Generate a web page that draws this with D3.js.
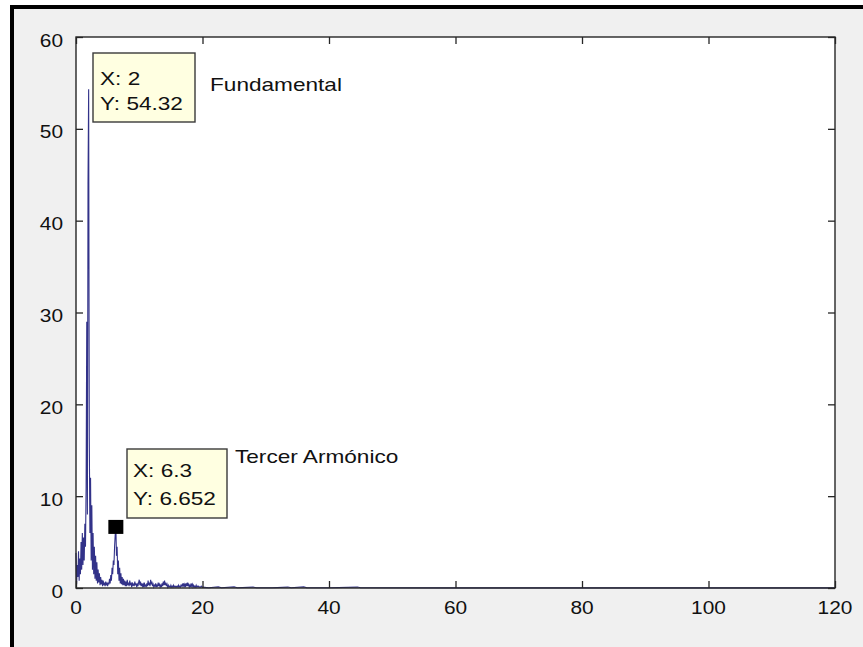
<!DOCTYPE html>
<html>
<head>
<meta charset="utf-8">
<script src="https://d3js.org/d3.v7.min.js"></script>
<style>
  body { margin: 0; background: #fff; }
  text { font-family: "Liberation Sans", Arial, sans-serif; fill: #111; }
</style>
</head>
<body>
<div id="chart"></div>
<script>
// spectrum magnitude, one value every 0.1 from 0 to 20
var step = 0.1;
var spectrumLow = [
  3.8, 0.4, 2.5, 1.2, 4.0, 0.8, 3.2, 1.5, 5.0, 2.0,
  6.0, 2.5, 5.5, 3.0, 7.0, 4.5, 11, 29, 8, 44,
  54.32, 16.3, 6, 12, 3, 9, 2, 6, 1.5, 4.5,
  1, 3.5, 0.8, 2.8, 0.5, 2.0, 0.6, 1.6, 0.3, 1.2,
  0.4, 0.9, 0.2, 0.8, 0.3, 0.6, 0.2, 0.7, 0.3, 0.5,
  0.2, 0.6, 0.4, 1.0, 0.5, 1.4, 0.8, 2.2, 1.5, 3.0,
  2.5, 4.5, 5.8, 6.652, 3.5, 4.5, 1.5, 3.0, 0.8, 2.2,
  0.5, 1.6, 0.4, 1.2, 0.3, 1.0, 0.3, 0.8, 0.2, 0.7,
  0.2, 0.9, 0.3, 0.6, 0.2, 0.8, 0.4, 0.5, 0.1, 0.6,
  0.3, 0.4, 0.2, 0.7, 0.3, 0.5, 0.1, 0.4, 0.2, 0.6,
  0.9, 0.3, 0.7, 0.2, 0.5, 0.2, 0.4, 0.1, 0.6, 0.2,
  0.3, 0.1, 0.5, 0.2, 0.8, 0.3, 0.6, 0.2, 0.9, 0.4,
  0.7, 0.2, 0.4, 0.1, 0.3, 0.2, 0.5, 0.1, 0.3, 0.2,
  0.6, 0.2, 0.4, 0.1, 0.3, 0.1, 0.5, 0.2, 0.7, 0.3,
  0.8, 0.3, 0.6, 0.2, 0.4, 0.1, 0.3, 0.1, 0.2, 0.1,
  0.3, 0.1, 0.2, 0.1, 0.3, 0.1, 0.2, 0.1, 0.2, 0.1,
  0.2, 0.1, 0.3, 0.1, 0.2, 0.1, 0.3, 0.2, 0.4, 0.2,
  0.5, 0.2, 0.4, 0.1, 0.5, 0.2, 0.6, 0.2, 0.4, 0.1,
  0.3, 0.1, 0.5, 0.2, 0.4, 0.1, 0.3, 0.1, 0.2, 0.1,
  0.3, 0.1, 0.2, 0.1, 0.2, 0.1, 0.1, 0.1, 0.2, 0.1,
  0.1
];
// sparse tail beyond 20: [x, magnitude]
var spectrumTail = [
  [21, 0.02], [22.5, 0.12], [23, 0.02], [25, 0.12], [25.5, 0.02], [28, 0.1],
  [28.5, 0.02], [31, 0.02], [33.5, 0.1], [34, 0.02], [36, 0.12], [36.5, 0.02],
  [40, 0.02], [44.5, 0.1], [45, 0.02], [60, 0.01], [80, 0.01], [100, 0.01], [120, 0.01]
];
var xTicks = [0, 20, 40, 60, 80, 100, 120];
var yTicks = [0, 10, 20, 30, 40, 50, 60];
var tips = [
  { x: 2, y: 54.32, lines: ["X: 2", "Y: 54.32"], label: "Fundamental", marker: false },
  { x: 6.3, y: 6.652, lines: ["X: 6.3", "Y: 6.652"], label: "Tercer Armónico", marker: true }
];

var W = 863, H = 647;
var svg = d3.select("#chart").append("svg")
  .attr("width", W).attr("height", H);

// figure window
svg.append("rect").attr("x", 12).attr("y", 7).attr("width", W - 12).attr("height", H - 7)
  .attr("fill", "#f0f0f0");
svg.append("line").attr("x1", 12).attr("x2", 12).attr("y1", 5).attr("y2", H)
  .attr("stroke", "#000").attr("stroke-width", 4);
svg.append("line").attr("x1", 10).attr("x2", W).attr("y1", 7).attr("y2", 7)
  .attr("stroke", "#000").attr("stroke-width", 4);

var box = { left: 76, right: 835, top: 37, bottom: 588 };
var x = d3.scaleLinear().domain([0, 120]).range([box.left, box.right]);
var y = d3.scaleLinear().domain([0, 60]).range([box.bottom, box.top]);

svg.append("rect").attr("x", box.left).attr("y", box.top)
  .attr("width", box.right - box.left).attr("height", box.bottom - box.top)
  .attr("fill", "#fff");

var data = spectrumLow.map(function(v, i) { return [i * step, v]; }).concat(spectrumTail);

svg.append("path")
  .datum(data)
  .attr("fill", "none")
  .attr("stroke", "#1c1c7c")
  .attr("stroke-width", 1.1)
  .attr("stroke-opacity", 0.9)
  .attr("d", d3.line().x(function(d) { return x(d[0]); }).y(function(d) { return y(d[1]); }));

// axes, ticks inside, mirrored on top and right
var tl = 7;
var sx = 1.13;
function tidy(g) { g.select(".domain").remove(); g.selectAll("line").attr("stroke", "#262626").attr("stroke-width", 1.3); }
svg.append("g").attr("transform", "translate(0," + box.bottom + ")")
  .call(d3.axisBottom(x).tickValues(xTicks).tickSize(-tl).tickFormat("")).call(tidy);
svg.append("g").attr("transform", "translate(0," + box.top + ")")
  .call(d3.axisTop(x).tickValues(xTicks).tickSize(-tl).tickFormat("")).call(tidy);
svg.append("g").attr("transform", "translate(" + box.left + ",0)")
  .call(d3.axisLeft(y).tickValues(yTicks).tickSize(-tl).tickFormat("")).call(tidy);
svg.append("g").attr("transform", "translate(" + box.right + ",0)")
  .call(d3.axisRight(y).tickValues(yTicks).tickSize(-tl).tickFormat("")).call(tidy);

svg.append("rect").attr("x", box.left).attr("y", box.top)
  .attr("width", box.right - box.left).attr("height", box.bottom - box.top)
  .attr("fill", "none").attr("stroke", "#262626").attr("stroke-width", 1.4);

// tick labels
svg.selectAll(".xl").data(xTicks).enter().append("text")
  .attr("transform", function(d) { return "translate(" + x(d) + "," + (box.bottom + 26) + ") scale(" + sx + ",1)"; })
  .attr("text-anchor", "middle")
  .style("font-size", "18.5px")
  .text(function(d) { return d; });
svg.selectAll(".yl").data(yTicks).enter().append("text")
  .attr("transform", function(d) { return "translate(63," + (y(d) + 9.5) + ") scale(" + sx + ",1)"; })
  .attr("text-anchor", "end")
  .style("font-size", "18.5px")
  .text(function(d) { return d; });

// data tips
var tsx = 1.19;
var tipBoxes = [
  { bx: 93, by: 53, bw: 102, bh: 69, tx: 100, ty: [85, 110], lx: 210, ly: 91 },
  { bx: 127, by: 449, bw: 100, bh: 69, tx: 133, ty: [477, 505], lx: 235, ly: 463 }
];
tips.forEach(function(t, i) {
  var b = tipBoxes[i];
  if (t.marker) {
    svg.append("rect")
      .attr("x", x(t.x) - 7.5).attr("y", y(t.y) - 7)
      .attr("width", 15).attr("height", 14)
      .attr("fill", "#000");
  }
  svg.append("rect").attr("x", b.bx).attr("y", b.by).attr("width", b.bw).attr("height", b.bh)
    .attr("fill", "#ffffe1").attr("stroke", "#3a3a3a").attr("stroke-width", 1.4);
  t.lines.forEach(function(s, j) {
    svg.append("text")
      .attr("transform", "translate(" + b.tx + "," + b.ty[j] + ") scale(" + tsx + ",1)")
      .style("font-size", "19px")
      .text(s);
  });
  svg.append("text")
    .attr("transform", "translate(" + b.lx + "," + b.ly + ") scale(" + tsx + ",1)")
    .style("font-size", "19px")
    .text(t.label);
});
</script>
</body>
</html>
